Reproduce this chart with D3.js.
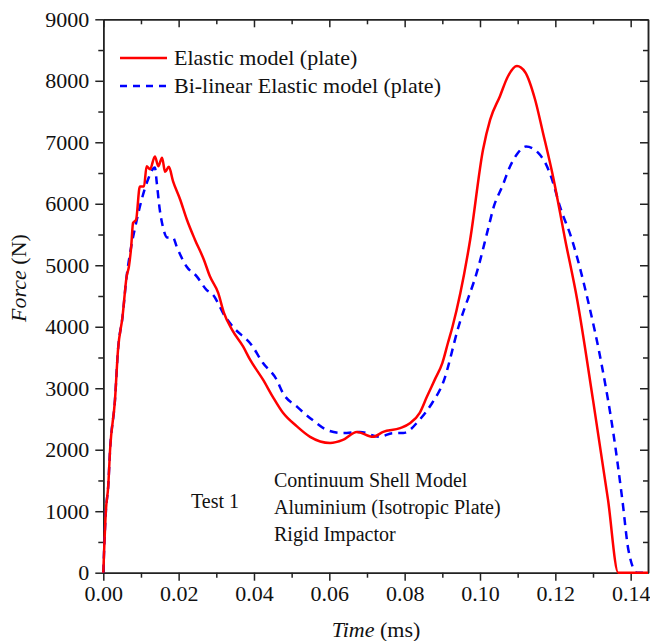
<!DOCTYPE html>
<html>
<head>
<meta charset="utf-8">
<script src="https://cdn.jsdelivr.net/npm/d3@7"></script>
<style>
  body { margin: 0; background: #fff; }
  svg text { font-family: "Liberation Serif", "Times New Roman", serif; fill: #111; }
</style>
</head>
<body>
<div id="chart"></div>
<script>
// data
const timeElastic = [0, 0.0007, 0.0013, 0.0018, 0.0031, 0.0039, 0.0051, 0.0062, 0.0068, 0.0074,
  0.0079, 0.0087, 0.0097, 0.0108, 0.0115, 0.0124, 0.0137, 0.0146, 0.0156, 0.0164,
  0.0174, 0.0185, 0.0204, 0.0222, 0.0243, 0.0267, 0.0283, 0.0305, 0.032, 0.0342,
  0.0371, 0.039, 0.0424, 0.045, 0.0477, 0.0514, 0.0549, 0.0602, 0.0636, 0.0673,
  0.0716, 0.0743, 0.0788, 0.0814, 0.084, 0.0859, 0.088, 0.09, 0.0915, 0.0927,
  0.0974, 0.1008, 0.1027, 0.1053, 0.1074, 0.1098, 0.112, 0.1146, 0.1167, 0.1194,
  0.1226, 0.1258, 0.13, 0.134, 0.1367, 0.1446];
const forceElastic = [0, 1020, 1400, 2000, 2810, 3620, 4160, 4820, 4980, 5300,
  5690, 5740, 6280, 6280, 6610, 6560, 6770, 6610, 6750, 6520,
  6600, 6370, 6070, 5740, 5420, 5090, 4820, 4550, 4230, 3950,
  3680, 3460, 3140, 2860, 2600, 2380, 2210, 2110, 2160, 2290,
  2210, 2290, 2350, 2430, 2600, 2860, 3140, 3410, 3740, 4000,
  5420, 6880, 7370, 7750, 8070, 8240, 8140, 7700, 7160, 6440,
  5420, 4440, 2810, 1180, 0, 0];

const timeBilinear = [0, 0.0007, 0.0013, 0.0018, 0.0031, 0.0039, 0.0051, 0.0062, 0.0074, 0.0085,
  0.0102, 0.0119, 0.0137, 0.0142, 0.015, 0.0158, 0.017, 0.0185, 0.0195, 0.0221,
  0.0248, 0.0274, 0.029, 0.0323, 0.0344, 0.0394, 0.0424, 0.046, 0.0477, 0.0514,
  0.0554, 0.0594, 0.0636, 0.0681, 0.0734, 0.0769, 0.0796, 0.084, 0.0873, 0.0902,
  0.0943, 0.0997, 0.1021, 0.1037, 0.1059, 0.108, 0.1101, 0.1122, 0.1154, 0.1173,
  0.1191, 0.1212, 0.1244, 0.1286, 0.1324, 0.1354, 0.1378, 0.1394, 0.1417, 0.1446];
const forceBilinear = [0, 1020, 1400, 2000, 2810, 3620, 4160, 4820, 5300, 5630,
  6070, 6400, 6590, 6340, 5900, 5630, 5450, 5450, 5300, 4980,
  4820, 4600, 4530, 4170, 4000, 3700, 3410, 3140, 2920, 2700,
  2490, 2320, 2270, 2290, 2210, 2270, 2270, 2490, 2760, 3090,
  4000, 5000, 5580, 5960, 6280, 6610, 6830, 6930, 6830, 6670,
  6400, 5960, 5420, 4440, 3350, 2270, 1180, 370, 0, 0];

const xTicks = [0, 0.02, 0.04, 0.06, 0.08, 0.10, 0.12, 0.14];
const yTicks = [0, 1000, 2000, 3000, 4000, 5000, 6000, 7000, 8000, 9000];
const seriesNames = ["Elastic model (plate)", "Bi-linear Elastic model (plate)"];
const notes = ["Continuum Shell Model", "Aluminium (Isotropic Plate)", "Rigid Impactor"];

const W = 650, H = 641;
const pLeft = 103.3, pRight = 648, pTop = 19.3, pBottom = 572.7;
const serif = "'Liberation Serif', 'Times New Roman', serif";

const svg = d3.select("#chart").append("svg")
  .attr("width", W).attr("height", H);

const x = d3.scaleLinear().domain([0, 0.1446]).range([pLeft, pRight]);
const y = d3.scaleLinear().domain([0, 9000]).range([pBottom, pTop]);

const xMinor = [0.01, 0.03, 0.05, 0.07, 0.09, 0.11, 0.13];
const yMinor = d3.range(500, 9000, 1000);

function styleAxis(g) {
  g.attr("font-family", serif);
  g.select("path.domain").attr("stroke", "#222").attr("stroke-width", 1.5);
  g.selectAll(".tick line").attr("stroke", "#222").attr("stroke-width", 1.5);
  g.selectAll("text")
    .style("font-family", serif)
    .style("font-size", "22px").attr("fill", "#111");
}

// bottom axis
svg.append("g").attr("transform", `translate(0,${pBottom})`)
  .call(d3.axisBottom(x).tickValues(xTicks).tickFormat(d3.format(".2f")).tickSize(8).tickSizeOuter(0).tickPadding(5))
  .call(styleAxis);
svg.append("g").attr("transform", `translate(0,${pBottom})`)
  .call(d3.axisBottom(x).tickValues(xMinor).tickFormat("").tickSize(5).tickSizeOuter(0))
  .call(styleAxis);
// top axis (ticks inward)
svg.append("g").attr("transform", `translate(0,${pTop})`)
  .call(d3.axisTop(x).tickValues(xTicks).tickFormat("").tickSize(-8).tickSizeOuter(0))
  .call(styleAxis);
svg.append("g").attr("transform", `translate(0,${pTop})`)
  .call(d3.axisTop(x).tickValues(xMinor).tickFormat("").tickSize(-5).tickSizeOuter(0))
  .call(styleAxis);
// left axis
svg.append("g").attr("transform", `translate(${pLeft},0)`)
  .call(d3.axisLeft(y).tickValues(yTicks).tickFormat(d3.format("d")).tickSize(8).tickSizeOuter(0).tickPadding(6))
  .call(styleAxis);
svg.append("g").attr("transform", `translate(${pLeft},0)`)
  .call(d3.axisLeft(y).tickValues(yMinor).tickFormat("").tickSize(5).tickSizeOuter(0))
  .call(styleAxis);
// right axis (ticks inward)
svg.append("g").attr("transform", `translate(${pRight},0)`)
  .call(d3.axisRight(y).tickValues(yTicks).tickFormat("").tickSize(-8).tickSizeOuter(0))
  .call(styleAxis);
svg.append("g").attr("transform", `translate(${pRight},0)`)
  .call(d3.axisRight(y).tickValues(yMinor).tickFormat("").tickSize(-5).tickSizeOuter(0))
  .call(styleAxis);

// lines
const line = d3.line()
  .x(d => x(d[0]))
  .y(d => y(d[1]))
  .curve(d3.curveMonotoneX);

const elastic = timeElastic.map((t, i) => [t, forceElastic[i]]);
const bilinear = timeBilinear.map((t, i) => [t, forceBilinear[i]]);

svg.append("path").datum(bilinear)
  .attr("fill", "none").attr("stroke", "#0000ff").attr("stroke-width", 2.5)
  .attr("stroke-dasharray", "8,6").attr("d", line);
svg.append("path").datum(elastic)
  .attr("fill", "none").attr("stroke", "#ff0000").attr("stroke-width", 2.5)
  .attr("d", line);

// legend
const legend = svg.append("g");
legend.append("line").attr("x1", 120).attr("x2", 167).attr("y1", 58).attr("y2", 58)
  .attr("stroke", "#ff0000").attr("stroke-width", 2.5);
legend.append("line").attr("x1", 120).attr("x2", 167).attr("y1", 86).attr("y2", 86)
  .attr("stroke", "#0000ff").attr("stroke-width", 2.5).attr("stroke-dasharray", "7,6");
legend.append("text").attr("x", 174).attr("y", 65).style("font-size", "22px").text(seriesNames[0]);
legend.append("text").attr("x", 174).attr("y", 93).style("font-size", "22px").text(seriesNames[1]);

// annotations
svg.append("text").attr("x", 191).attr("y", 508).style("font-size", "20px").text("Test 1");
notes.forEach((n, i) => {
  svg.append("text").attr("x", 274).attr("y", 487 + i * 27).style("font-size", "20px").text(n);
});

// axis titles
const xt = svg.append("text").attr("x", 376).attr("y", 637)
  .attr("text-anchor", "middle").style("font-size", "22px");
xt.append("tspan").style("font-style", "italic").text("Time");
xt.append("tspan").text(" (ms)");

const yt = svg.append("text")
  .attr("transform", `translate(26,278) rotate(-90)`)
  .attr("text-anchor", "middle").style("font-size", "22px");
yt.append("tspan").style("font-style", "italic").text("Force");
yt.append("tspan").text(" (N)");
</script>
</body>
</html>
